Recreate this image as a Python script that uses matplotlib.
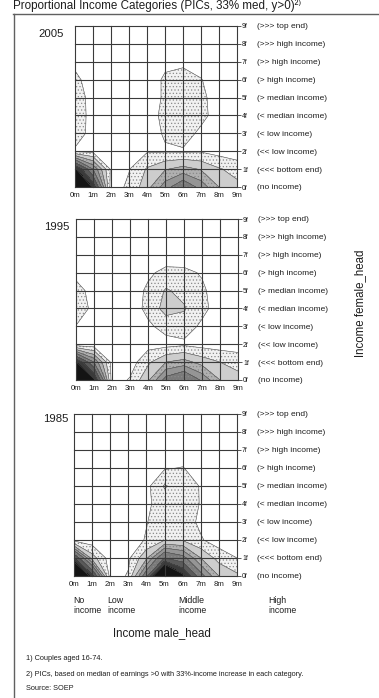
import numpy as np
import matplotlib
matplotlib.use("Agg")
import matplotlib.pyplot as plt

plt.rcParams['font.family'] = ['Liberation Sans', 'DejaVu Sans']
plt.rcParams['hatch.color'] = '#8a8a8a'
plt.rcParams['hatch.linewidth'] = 0.5

W, H = 379, 698

male_ticks = ['0m', '1m', '2m', '3m', '4m', '5m', '6m', '7m', '8m', '9m']
female_ticks = ['0f', '1f', '2f', '3f', '4f', '5f', '6f', '7f', '8f', '9f']
female_categories = ['(no income)', '(<<< bottom end)', '(<< low income)',
                     '(< low income)', '(< median income)', '(> median income)',
                     '(> high income)', '(>> high income)', '(>>> high income)',
                     '(>>> top end)']
male_groups = ['No\nincome', 'Low\nincome', 'Middle\nincome', 'High\nincome']
years = ['2005', '1995', '1985']

# Couple density; rows = female category 0f..9f, columns = male category 0m..9m
density_2005 = [
    [16.0, 9.0, 0.5, 1.2, 2.6, 4.5, 6.0, 4.6, 3.0, 2.3],
    [9.8, 5.0, 0.8, 0.95, 2.1, 2.9, 3.4, 2.9, 2.1, 1.6],
    [0.8, 0.7, 0.4, 0.5, 0.9, 0.9, 0.85, 0.9, 0.6, 0.4],
    [1.7, 0.5, 0.3, 0.3, 0.6, 1.1, 1.6, 0.7, 0.3, 0.2],
    [1.8, 0.5, 0.3, 0.3, 0.5, 1.3, 1.7, 1.4, 0.4, 0.2],
    [1.7, 0.5, 0.3, 0.3, 0.3, 1.2, 1.6, 1.3, 0.4, 0.2],
    [1.3, 0.4, 0.2, 0.2, 0.3, 1.2, 1.4, 1.05, 0.4, 0.2],
    [0.7, 0.3, 0.2, 0.2, 0.2, 0.7, 0.8, 0.5, 0.3, 0.2],
    [0.4, 0.2, 0.2, 0.2, 0.2, 0.3, 0.3, 0.3, 0.2, 0.1],
    [0.3, 0.2, 0.1, 0.1, 0.1, 0.2, 0.2, 0.2, 0.1, 0.1],
]
density_1995 = [
    [16.0, 9.8, 0.5, 1.1, 2.8, 5.5, 6.5, 4.8, 3.0, 2.3],
    [9.6, 5.0, 0.6, 0.5, 1.8, 3.0, 3.4, 2.6, 2.0, 1.7],
    [0.2, 0.3, 0.3, 0.4, 0.6, 0.6, 0.8, 0.6, 0.5, 0.4],
    [0.95, 0.5, 0.3, 0.4, 0.8, 1.4, 1.5, 0.8, 0.4, 0.3],
    [1.9, 0.6, 0.3, 0.4, 1.3, 2.4, 2.1, 1.3, 0.5, 0.3],
    [1.5, 0.5, 0.3, 0.4, 1.2, 2.1, 1.7, 1.2, 0.4, 0.3],
    [0.6, 0.4, 0.2, 0.3, 0.8, 1.3, 1.25, 0.9, 0.3, 0.2],
    [0.3, 0.2, 0.2, 0.2, 0.3, 0.4, 0.4, 0.3, 0.2, 0.2],
    [0.2, 0.2, 0.1, 0.1, 0.2, 0.2, 0.2, 0.2, 0.1, 0.1],
    [0.1, 0.1, 0.1, 0.1, 0.1, 0.1, 0.1, 0.1, 0.1, 0.1],
]
density_1985 = [
    [15.0, 8.5, 0.5, 1.1, 6.0, 15.0, 10.0, 5.5, 3.0, 2.2],
    [8.0, 2.5, 0.5, 0.8, 2.8, 6.5, 5.5, 3.0, 1.6, 1.0],
    [0.6, 0.4, 0.3, 0.4, 1.1, 1.95, 1.9, 1.1, 0.5, 0.4],
    [0.4, 0.3, 0.3, 0.4, 0.95, 1.6, 1.5, 0.8, 0.4, 0.3],
    [0.3, 0.3, 0.2, 0.3, 0.8, 1.5, 1.5, 0.95, 0.4, 0.3],
    [0.3, 0.2, 0.2, 0.3, 0.7, 2.1, 1.4, 0.95, 0.3, 0.2],
    [0.2, 0.2, 0.2, 0.2, 0.5, 0.9, 1.05, 0.5, 0.3, 0.2],
    [0.2, 0.2, 0.1, 0.1, 0.3, 0.3, 0.3, 0.3, 0.2, 0.1],
    [0.1, 0.1, 0.1, 0.1, 0.1, 0.1, 0.1, 0.1, 0.1, 0.1],
    [0.1, 0.1, 0.1, 0.1, 0.1, 0.1, 0.1, 0.1, 0.1, 0.1],
]
densities = [density_2005, density_1995, density_1985]

levels = [1, 2, 3, 4, 5, 6.5, 8, 9.5, 100]
fill_colors = ['#f1f1f1', '#cdcdcd', '#b0b0b0', '#959595', '#7a7a7a',
               '#5a5a5a', '#3a3a3a', '#141414']
fill_hatches = ['.....', None, '.....', None, '.....', None, None, None]

# panel boxes in pixels: left, top, width, height
panel_px = [(75, 26, 162, 161), (76, 219, 162, 161), (74, 414, 163, 162)]
year_px = [(64, 34), (69, 227.5), (68, 419)]


def fx(px):
    return px / W


def fy(py):
    return 1 - py / H


fig = plt.figure(figsize=(W / 100, H / 100), dpi=100)

text_col = '#1e1e1e'
grid_col = '#3a3a3a'

for k, (dens, yr) in enumerate(zip(densities, years)):
    l, t, w, h = panel_px[k]
    ax = fig.add_axes([fx(l), fy(t + h), w / W, h / H])
    z = np.array(dens)
    xs = np.arange(z.shape[1])
    ys = np.arange(z.shape[0])
    ax.contourf(xs, ys, z, levels=levels, colors=fill_colors, hatches=fill_hatches)
    ax.contour(xs, ys, z, levels=levels[:-1], colors='#4a4a4a', linewidths=0.4)
    for i in range(10):
        ax.axvline(i, color=grid_col, lw=0.8, zorder=4, clip_on=False)
        ax.axhline(i, color=grid_col, lw=0.8, zorder=4, clip_on=False)
    ax.set_xlim(0, 9)
    ax.set_ylim(0, 9)
    for s in ax.spines.values():
        s.set_visible(False)
    ax.set_xticks(range(10))
    ax.set_xticklabels(male_ticks)
    ax.set_yticks(range(10))
    ax.set_yticklabels(female_ticks)
    ax.yaxis.tick_right()
    ax.tick_params(axis='x', length=0, pad=3.5, labelsize=5.6, labelcolor=text_col)
    ax.tick_params(axis='y', length=3, width=0.6, pad=0.6, labelsize=4.9,
                   color=grid_col, labelcolor=text_col)
    for i, lab in enumerate(female_categories):
        ax.text(10.1, i - 0.05, lab, ha='left', va='center', fontsize=6.0,
                color=text_col, clip_on=False)
    yx, yy = year_px[k]
    fig.text(fx(yx), fy(yy), yr, ha='right', va='center', fontsize=8.2, color=text_col)

# male income groups under the bottom panel
group_x = [73, 107, 178, 268]
for gx, g in zip(group_x, male_groups):
    fig.text(fx(gx), fy(596), g, ha='left', va='top', fontsize=6.3,
             color=text_col, linespacing=1.1)

fig.text(fx(162), fy(633), 'Income male_head', ha='center', va='center',
         fontsize=8.3, color=text_col)
fig.text(fx(360), fy(303), 'Income female_head', ha='center', va='center',
         rotation=90, fontsize=8.3, color=text_col)

fig.text(fx(13), fy(9.5), 'Proportional Income Categories (PICs, 33% med, y>0)\u00b2\u207e',
         ha='left', va='baseline', fontsize=8.4, color=text_col)

notes = ['1) Couples aged 16-74.',
         '2) PICs, based on median of earnings >0 with 33%-income increase in each category.',
         'Source: SOEP']
for ny, note in zip([659, 675, 689], notes):
    fig.text(fx(26), fy(ny), note, ha='left', va='center', fontsize=5.3, color=text_col)

# outer frame (open to the right and bottom)
fig.add_artist(plt.Line2D([fx(13.5), fx(13.5)], [fy(14), fy(698)], color='#606060', lw=1.0))
fig.add_artist(plt.Line2D([fx(13), fx(379)], [fy(14), fy(14)], color='#606060', lw=1.0))

fig.savefig('out.png', dpi=100)
